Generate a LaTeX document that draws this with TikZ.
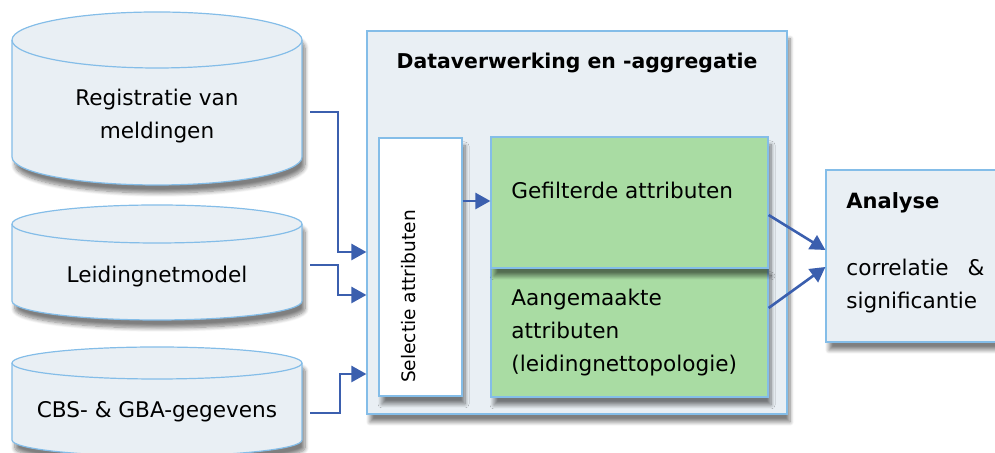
\documentclass[tikz,border=0pt]{standalone}
\usepackage{fontspec}
\setmainfont{DejaVu Sans}
\usetikzlibrary{arrows.meta,positioning,shadows.blur}
\definecolor{boxfill}{RGB}{233,239,244}
\definecolor{boxline}{RGB}{132,189,232}
\definecolor{greenfill}{RGB}{169,220,163}
\definecolor{flowblue}{RGB}{59,95,174}

\begin{document}
\begin{tikzpicture}
                [x=0.5pt, y=0.5pt, >={Triangle[length=7.5pt,width=8pt]},
                font=\fontsize{10.8}{16.5}\selectfont,
                softshadow/.style={blur shadow={shadow xshift=1.5pt, shadow yshift=-4pt,
                    shadow blur radius=2pt, shadow blur steps=8, shadow opacity=50}},
                box/.style={draw=boxline, fill=boxfill, line width=0.6pt, softshadow, inner sep=0pt},
                cylbody/.style={draw=boxline, fill=boxfill, line width=0.6pt, softshadow},
                label text/.style={inner sep=0pt, align=left},
                flow/.style={->, draw=flowblue, line width=1.3pt},
                ]
                \clip (0,0) rectangle (995,453);

                % data sources
                \path[cylbody] (12,413) -- (12,296)
                    arc[start angle=180, end angle=360, x radius=72.5pt, y radius=14pt]
                    -- (302,413)
                    arc[start angle=0, end angle=180, x radius=72.5pt, y radius=14pt] -- cycle;
                \draw[boxline, line width=0.6pt] (12,413)
                    arc[start angle=180, end angle=360, x radius=72.5pt, y radius=14pt];
                \node[inner sep=0pt, align=center] (reg) at (157,336.5) {Registratie van\\meldingen};

                \path[cylbody] (12,229) -- (12,152)
                    arc[start angle=180, end angle=360, x radius=72.5pt, y radius=9.5pt]
                    -- (302,229)
                    arc[start angle=0, end angle=180, x radius=72.5pt, y radius=9.5pt] -- cycle;
                \draw[boxline, line width=0.6pt] (12,229)
                    arc[start angle=180, end angle=360, x radius=72.5pt, y radius=9.5pt];
                \node[inner sep=0pt] (net) at (157,176) {Leidingnetmodel};

                \path[cylbody] (12,90) -- (12,13)
                    arc[start angle=180, end angle=360, x radius=72.5pt, y radius=8pt]
                    -- (302,90)
                    arc[start angle=0, end angle=180, x radius=72.5pt, y radius=8pt] -- cycle;
                \draw[boxline, line width=0.6pt] (12,90)
                    arc[start angle=180, end angle=360, x radius=72.5pt, y radius=8pt];
                \node[inner sep=0pt] (cbs) at (157,41) {CBS- \& GBA-gegevens};

                \coordinate (reg out) at (310,341);
                \coordinate (net out) at (310,188);
                \coordinate (cbs out) at (310,40);

                % processing
                \node[box, minimum width=210pt, minimum height=191.5pt] (dat) at (577,230.5) {};
                \node[inner sep=0pt, font=\bfseries\fontsize{10.2}{12}\selectfont] (dat title)
                    at (577,390) {Dataverwerking en -aggregatie};

                \node[box, fill=white, minimum width=41.5pt, minimum height=129pt] (sel) at (420.5,186) {};
                \node[inner sep=0pt, rotate=90, font=\fontsize{9.3}{12}\selectfont] (sel text)
                    at (409,156.5) {Selectie attributen};

                \node[box, fill=greenfill, minimum width=138.5pt, minimum height=64.5pt] (aan) at (629.5,120.5) {};
                \node[box, fill=greenfill, minimum width=138.5pt, minimum height=65.5pt] (gef) at (629.5,250.5) {};
                \node[label text, anchor=west] (gef text) at (511,263) {Gefilterde attributen};
                \node[label text, anchor=west] (aan text) at (511,120)
                    {Aangemaakte\\attributen\\(leidingnettopologie)};

                % analysis
                \node[box, minimum width=89.5pt, minimum height=86pt] (ana) at (915.5,197) {};
                \node[label text, anchor=west, font=\bfseries\fontsize{10.5}{12}\selectfont] (ana title)
                    at (846,250) {Analyse};
                \node[label text, anchor=west, text width=69pt] (ana text) at (846,166.5)
                    {correlatie \hfill \&\\significantie};

                % connectors
                \draw[flow] (reg out) -| (338,201) -- (dat.west |- 338,201);
                \draw[flow] (net out) -| (338,158) -- (dat.west |- 338,158);
                \draw[flow] (cbs out) -| (340,79) -- (dat.west |- 340,79);
                \draw[flow] (sel.east |- 462,252) -- (gef.west |- 491,252);
                \draw[flow] (gef.east |- 767,238) -- (ana.west |- 826,203);
                \draw[flow] (aan.east |- 768,145) -- (ana.west |- 826,186);
            \end{tikzpicture}
\end{document}
